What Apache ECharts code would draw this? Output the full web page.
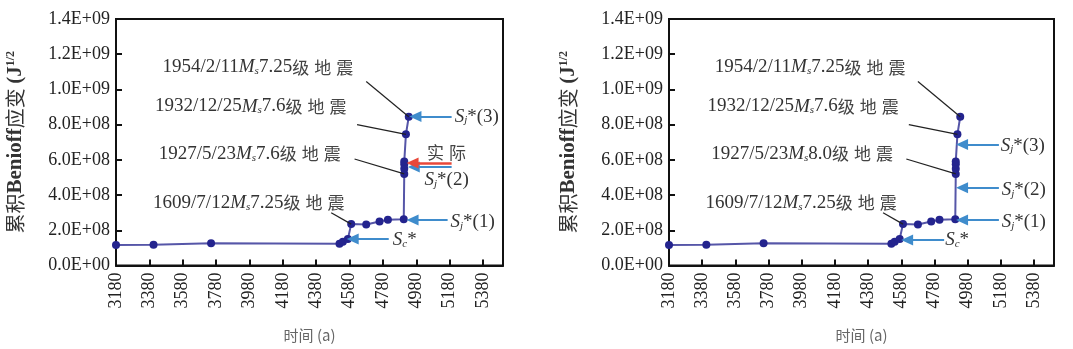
<!DOCTYPE html>
<html>
<head>
<meta charset="utf-8">
<script src="https://cdn.jsdelivr.net/npm/echarts@6/dist/echarts.min.js"></script>
<style>
html, body { margin: 0; background: #fff; }
#main { width: 1073px; height: 349px; }
</style>
</head>
<body>
<div id="main"></div>
<script>
// cumulative Benioff strain curve (same in both panels)
const years  = [3180, 3405, 3750, 4520, 4540, 4570, 4590, 4680, 4760, 4810, 4905, 4908, 4908, 4908, 4908, 4918, 4935];
const strain = [1.17e8, 1.18e8, 1.26e8, 1.24e8, 1.35e8, 1.5e8, 2.35e8, 2.33e8, 2.5e8, 2.6e8, 2.62e8, 5.2e8, 5.5e8, 5.75e8, 5.9e8, 7.45e8, 8.45e8];

const xTicks = [3180, 3380, 3580, 3780, 3980, 4180, 4380, 4580, 4780, 4980, 5180, 5380];

// earthquake labels
const quakeDates = ["1954/2/11", "1932/12/25", "1927/5/23", "1609/7/12"];
const quakeMagLeft  = ["7.25", "7.6", "7.6", "7.25"];
const quakeMagRight = ["7.25", "7.6", "8.0", "7.25"];
const quakeLabelAt = [[4030, 1.125e9], [3988, 9.03e8], [3982, 6.35e8], [3976, 3.56e8]];
const leaderFrom   = [[4680, 1.045e9], [4625, 8.0e8], [4610, 6.05e8], [4470, 3.0e8]];
const leaderTo     = [[4935, 8.45e8], [4918, 7.45e8], [4908, 5.2e8], [4590, 2.35e8]];

// S arrows
const arrowNames = ["{i|S}{sub|j}{n|*(3)}", "{i|S}{sub|j}{n|*(2)}", "{i|S}{sub|j}{n|*(1)}", "{i|S}{sub|c}{n|*}"];
const arrowFromLeft  = [[5192, 8.46e8], [5192, 5.6e8], [5168, 2.59e8], [4815, 1.51e8]];
const arrowToLeft    = [[4975, 8.46e8], [4965, 5.6e8], [4958, 2.59e8], [4599, 1.51e8]];
const arrowTextLeft  = [[5343, 8.46e8], [5162, 4.87e8], [5318, 2.48e8], [4911, 1.45e8]];
const arrowFromRight = [[5168, 6.87e8], [5168, 4.42e8], [5168, 2.59e8], [4838, 1.45e8]];
const arrowToRight   = [[4946, 6.87e8], [4946, 4.42e8], [4946, 2.59e8], [4615, 1.45e8]];
const arrowTextRight = [[5312, 6.81e8], [5318, 4.3e8], [5318, 2.48e8], [4916, 1.45e8]];

// "actual" red arrow, left panel only
const actualFrom = [5192, 5.82e8];
const actualTo   = [4958, 5.82e8];
const actualText = [5162, 6.41e8];

const rich = {
    n:   { fontFamily: "Liberation Serif", fontSize: 19, color: "#333" },
    i:   { fontFamily: "Liberation Serif", fontSize: 19, fontStyle: "italic", color: "#333" },
    sub: { fontFamily: "Liberation Serif", fontSize: 11, fontStyle: "italic", color: "#333", verticalAlign: "bottom", lineHeight: 10 },
    c:   { fontFamily: "Noto Sans CJK SC", fontSize: 17, color: "#444" },
    cs:  { fontFamily: "Noto Sans CJK SC", fontSize: 17, color: "#444", padding: [0, 0, 0, 5] }
};

function expFmt(v) {
    const parts = v.toExponential(1).split("e");
    const e = parseInt(parts[1], 10);
    return parts[0] + "E" + (e < 0 ? "-" : "+") + String(Math.abs(e)).padStart(2, "0");
}

function xAxisFor(g) {
    return {
        type: "value", gridIndex: g, min: 3180, max: 5500, interval: 200,
        axisLine: { show: true, onZero: false, lineStyle: { color: "#111", width: 2 } },
        axisTick: { show: true, inside: true, length: 6, customValues: xTicks, lineStyle: { color: "#111", width: 2 } },
        axisLabel: {
            rotate: 90, margin: 7, customValues: xTicks, formatter: v => String(v),
            fontFamily: "Liberation Serif", fontSize: 18, color: "#222"
        },
        splitLine: { show: false },
        name: "时间 (a)", nameLocation: "middle", nameGap: 62,
        nameTextStyle: { fontFamily: "Noto Sans CJK SC", fontSize: 15, color: "#666" }
    };
}

function yAxisFor(g) {
    return {
        type: "value", gridIndex: g, min: 0, max: 1.4e9, interval: 2e8,
        axisLine: { show: true, lineStyle: { color: "#111", width: 2 } },
        axisTick: { show: true, inside: true, length: 6, lineStyle: { color: "#111", width: 2 } },
        axisLabel: { margin: 6, formatter: expFmt, fontFamily: "Liberation Serif", fontSize: 18, color: "#222" },
        splitLine: { show: false },
        name: "{a|累积}{b|Benioff}{a|应变 }{b|(J}{s|1/2}",
        nameLocation: "middle", nameRotate: 90, nameGap: 90,
        nameTextStyle: {
            rich: {
                a: { fontFamily: "Noto Sans CJK SC", fontSize: 20, color: "#333" },
                b: { fontFamily: "Liberation Serif", fontWeight: "bold", fontSize: 21, color: "#333" },
                s: { fontFamily: "Liberation Serif", fontWeight: "bold", fontSize: 12, color: "#333", verticalAlign: "top", lineHeight: 12 }
            }
        }
    };
}

function seriesFor(g, mags, aFrom, aTo, aText, withActual) {
    const lines = [];
    for (let k = 0; k < leaderFrom.length; k++) {
        lines.push([
            { coord: leaderFrom[k], symbol: "none", lineStyle: { color: "#222", width: 1.2, type: "solid" } },
            { coord: leaderTo[k], symbol: "none" }
        ]);
    }
    for (let k = 0; k < aFrom.length; k++) {
        lines.push([
            { coord: aFrom[k], symbol: "none", lineStyle: { color: "#3f8ccc", width: 2, type: "solid" } },
            { coord: aTo[k], symbol: "triangle", symbolSize: [11, 12] }
        ]);
    }
    if (withActual) {
        lines.push([
            { coord: actualFrom, symbol: "none", lineStyle: { color: "#e8483a", width: 2.5, type: "solid" } },
            { coord: actualTo, symbol: "triangle", symbolSize: [11, 12] }
        ]);
    }

    const texts = [];
    for (let k = 0; k < quakeDates.length; k++) {
        texts.push({
            coord: quakeLabelAt[k],
            label: { formatter: "{n|" + quakeDates[k] + "}{i|M}{sub|s}{n|" + mags[k] + "}{c|级}{cs|地}{cs|震}" }
        });
    }
    for (let k = 0; k < aText.length; k++) {
        texts.push({ coord: aText[k], label: { formatter: arrowNames[k] } });
    }
    if (withActual) {
        texts.push({ coord: actualText, label: { formatter: "{c|实}{cs|际}" } });
    }

    return {
        type: "line", xAxisIndex: g, yAxisIndex: g,
        data: years.map((y, k) => [y, strain[k]]),
        symbol: "circle", symbolSize: 8,
        itemStyle: { color: "#24248e" },
        lineStyle: { color: "#5656a8", width: 2 },
        markLine: { silent: true, animation: false, label: { show: false }, data: lines },
        markPoint: {
            silent: true, animation: false,
            symbol: "circle", symbolSize: 1,
            itemStyle: { color: "rgba(0,0,0,0)" },
            label: { show: true, position: "inside", rich: rich },
            data: texts
        }
    };
}

const chart = echarts.init(document.getElementById("main"));
chart.setOption({
    animation: false,
    backgroundColor: "#fff",
    grid: [
        { left: 116, top: 19, width: 387, height: 246.5, show: true, borderColor: "#111", borderWidth: 2 },
        { left: 669, top: 19, width: 385, height: 246.5, show: true, borderColor: "#111", borderWidth: 2 }
    ],
    xAxis: [xAxisFor(0), xAxisFor(1)],
    yAxis: [yAxisFor(0), yAxisFor(1)],
    series: [
        seriesFor(0, quakeMagLeft, arrowFromLeft, arrowToLeft, arrowTextLeft, true),
        seriesFor(1, quakeMagRight, arrowFromRight, arrowToRight, arrowTextRight, false)
    ]
});
</script>
</body>
</html>
